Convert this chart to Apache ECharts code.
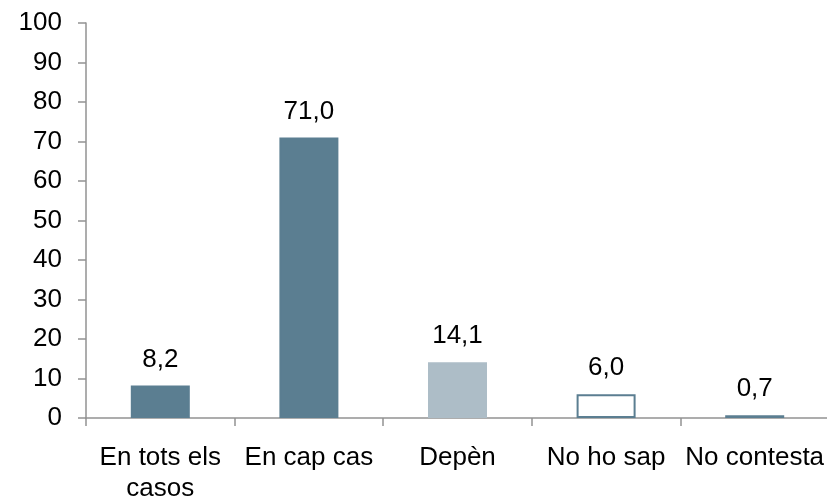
<!DOCTYPE html>
<html>
<head>
<meta charset="utf-8">
<script src="https://cdn.jsdelivr.net/npm/echarts@6/dist/echarts.min.js"></script>
<style>
  html, body { margin: 0; padding: 0; background: #ffffff; }
  #chart { width: 827px; height: 498px; }
</style>
</head>
<body>
<div id="chart"></div>
<script>
// Response categories and percentages
const categories = ['En tots els\ncasos', 'En cap cas', 'Depèn', 'No ho sap', 'No contesta'];
const values = [8.2, 71.0, 14.1, 6.0, 0.7];

// Per-bar fill and border colours
const fillColors = ['#5b7e91', '#5b7e91', '#adbdc7', '#ffffff', '#a9bcc7'];
const borderColors = ['#5b7e91', '#5b7e91', '#adbdc7', '#5b7e91', '#5b7e91'];

const FONT = '"Liberation Sans", Arial, sans-serif';
const axisGray = '#929292';

const chart = echarts.init(document.getElementById('chart'), null, { renderer: 'canvas' });

chart.setOption({
  animation: false,
  grid: {
    left: 86, top: 23, width: 743, height: 395,
    containLabel: false, outerBoundsMode: 'none'
  },
  xAxis: {
    type: 'category',
    data: categories,
    boundaryGap: true,
    axisLine: { lineStyle: { color: axisGray, width: 1.5 } },
    axisTick: { show: true, length: 8, lineStyle: { color: axisGray, width: 1.5 } },
    axisLabel: {
      color: '#000000', fontFamily: FONT, fontSize: 26, lineHeight: 31,
      margin: 24, interval: 0
    },
    splitLine: { show: false }
  },
  yAxis: {
    type: 'value',
    min: 0, max: 100, interval: 10,
    axisLine: { show: true, lineStyle: { color: axisGray, width: 1.5 } },
    axisTick: { show: true, length: 8, lineStyle: { color: axisGray, width: 1.5 } },
    axisLabel: { color: '#000000', fontFamily: FONT, fontSize: 26, margin: 24 },
    splitLine: { show: false }
  },
  series: [{
    type: 'bar',
    barWidth: 59,
    data: values.map((v, i) => ({
      value: v,
      itemStyle: { color: fillColors[i], borderColor: borderColors[i], borderWidth: 2 }
    })),
    label: {
      show: true,
      position: 'top',
      distance: 13,
      color: '#000000',
      fontFamily: FONT,
      fontSize: 26,
      formatter: p => p.value.toFixed(1).replace('.', ',')
    }
  }]
});
</script>
</body>
</html>
